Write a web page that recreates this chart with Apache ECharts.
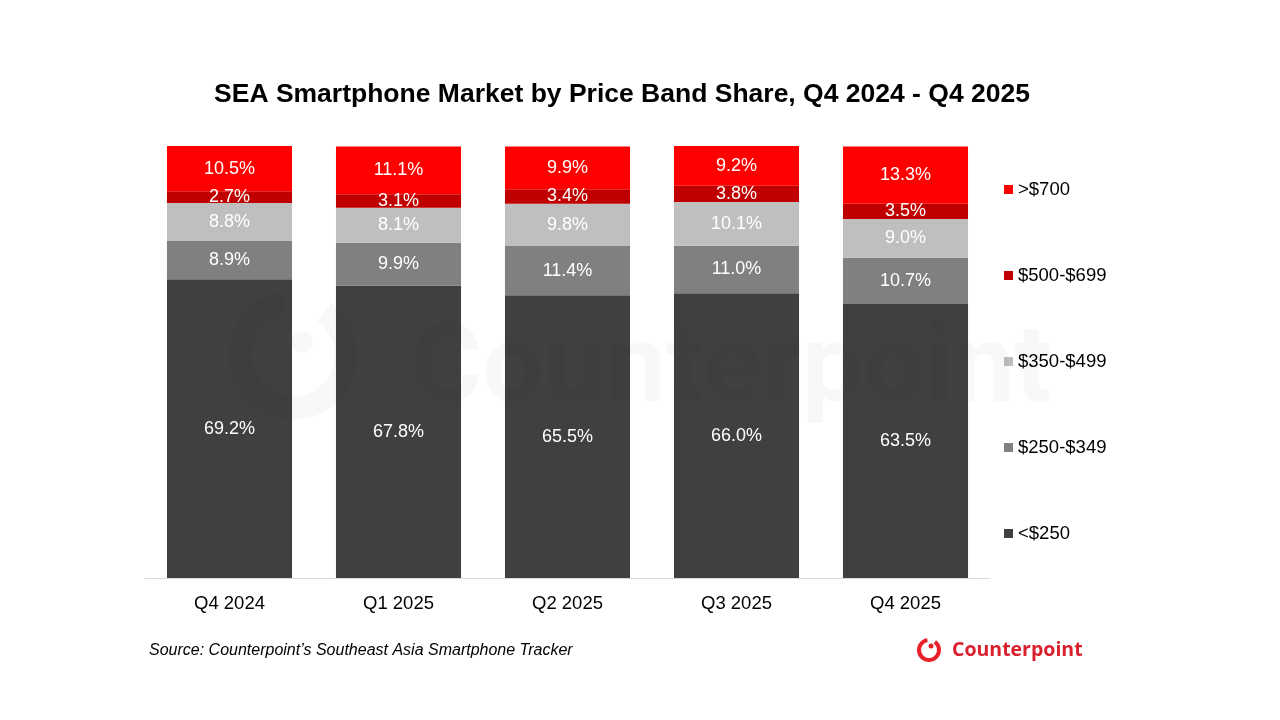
<!DOCTYPE html>
<html>
<head>
<meta charset="utf-8">
<script src="https://cdn.jsdelivr.net/npm/echarts@6/dist/echarts.min.js"></script>
<style>
html,body{margin:0;padding:0;background:#fff}
#main{width:1280px;height:720px}
</style>
</head>
<body>
<div id="main"></div>
<script>
const quarters = ['Q4 2024', 'Q1 2025', 'Q2 2025', 'Q3 2025', 'Q4 2025']
const bandNames = ['<$250', '$250-$349', '$350-$499', '$500-$699', '>$700']
const bandColors = ['#404040', '#808080', '#bfbfbf', '#c00000', '#ff0000']
const under250 = [69.2, 67.8, 65.5, 66.0, 63.5]
const from250to349 = [8.9, 9.9, 11.4, 11.0, 10.7]
const from350to499 = [8.8, 8.1, 9.8, 10.1, 9.0]
const from500to699 = [2.7, 3.1, 3.4, 3.8, 3.5]
const over700 = [10.5, 11.1, 9.9, 9.2, 13.3]
const bandValues = [under250, from250to349, from350to499, from500to699, over700]

const chart = echarts.init(document.getElementById('main'))

const FONT = 'Liberation Sans, Arial'
// watermark sits over the bars, very faint
const WM = 'rgba(0,0,0,0.028)'

let series = bandNames.map((name, i) => ({
	name: name,
	type: 'bar',
	stack: 'share',
	barWidth: '74%',
	data: bandValues[i],
	itemStyle: { color: bandColors[i] },
	label: {
		show: true,
		position: 'inside',
		color: '#fff',
		fontFamily: FONT,
		fontSize: 18,
		formatter: p => p.value.toFixed(1) + '%'
	}
}))

chart.setOption({
	backgroundColor: '#fff',
	animation: false,
	title: {
		text: 'SEA Smartphone Market by Price Band Share, Q4 2024 - Q4 2025',
		left: 617,
		top: 76,
		textAlign: 'center',
		textStyle: { fontFamily: FONT, fontWeight: 'bold', fontSize: 26.5, color: '#000' }
	},
	legend: {
		orient: 'vertical',
		left: 999,
		top: 175,
		itemWidth: 9,
		itemHeight: 9,
		itemGap: 67,
		icon: 'rect',
		data: bandNames.slice().reverse(),
		textStyle: { fontFamily: FONT, fontSize: 18.5, color: '#000', lineHeight: 18 }
	},
	grid: { left: 145, right: 290, top: 146, bottom: 142 },
	xAxis: {
		type: 'category',
		data: quarters,
		axisLine: { lineStyle: { color: '#d9d9d9' } },
		axisTick: { show: false },
		axisLabel: { color: '#000', fontFamily: FONT, fontSize: 18.5, margin: 16 }
	},
	yAxis: {
		type: 'value',
		min: 0,
		max: 100.1,
		show: false,
		splitLine: { show: false }
	},
	graphic: [
		{
			type: 'arc', z: 100, silent: true,
			shape: { cx: 293, cy: 355, r: 53, startAngle: -Math.PI * 0.3, endAngle: Math.PI * 1.45 },
			style: { stroke: WM, lineWidth: 23, fill: null }
		},
		{
			type: 'circle', z: 100, silent: true,
			shape: { cx: 302, cy: 342, r: 11 },
			style: { fill: WM }
		},
		{
			type: 'text', z: 100, silent: true,
			style: { x: 411, y: 374, text: 'Counterpoint', fill: WM, font: 'bold 109px Roboto, sans-serif', verticalAlign: 'middle' }
		},
		{
			type: 'text', left: 149, top: 643,
			style: { text: 'Source: Counterpoint\u2019s Southeast Asia Smartphone Tracker', fill: '#000', font: 'italic 16px "Liberation Sans", Arial' }
		},
		// bottom logo
		{
			type: 'arc',
			shape: { cx: 929, cy: 650, r: 10, startAngle: -Math.PI * 0.3, endAngle: Math.PI * 1.45 },
			style: { stroke: '#e8202a', lineWidth: 4, fill: null }
		},
		{
			type: 'circle',
			shape: { cx: 931, cy: 646, r: 2.5 },
			style: { fill: '#e8202a' }
		},
		{
			type: 'text', left: 952, top: 640,
			style: { text: 'Counterpoint', fill: '#d9202c', font: 'bold 19.5px "Open Sans", sans-serif' }
		}
	],
	series: series
})
</script>
</body>
</html>
